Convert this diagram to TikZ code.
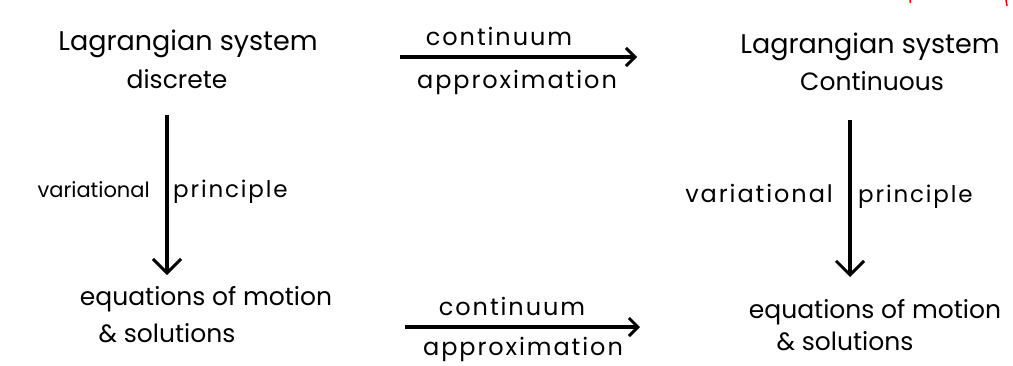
\documentclass[tikz,border=0pt]{standalone}
\usepackage{fontspec}
\setmainfont{Poppins}
\newfontfamily\wide[LetterSpace=8]{Poppins}
\usetikzlibrary{arrows.meta}

\begin{document}
\begin{tikzpicture}[x=1pt, y=-1pt,
    big/.style={anchor=base, inner sep=0pt, font=\fontsize{25}{30}\selectfont},
    title/.style={anchor=base, inner sep=0pt, font=\fontsize{27}{32}\selectfont},
    small/.style={inner sep=0pt, font=\fontsize{21}{25}\selectfont},
    arrlbl/.style={anchor=base, inner sep=0pt, font=\wide\fontsize{24}{28}\selectfont},
    harr/.style={line width=3.2pt, -{Straight Barb[length=9pt, width=18pt, line width=3pt]}},
    varr/.style={line width=3.2pt, -{Straight Barb[length=14pt, width=28pt, line width=3pt]}}]
    \useasboundingbox (0,0) rectangle (1013,365);

    % Discrete system (top left)
    \node[title] (lagd) at (188,50) {Lagrangian system};
    \node[big] (disc) at (177,88) {discrete};

    % Continuous system (top right)
    \node[title] (lagc) at (870,53) {Lagrangian system};
    \node[big] (cont) at (872,90) {Continuous};

    % Equations of motion (bottom row)
    \node[big] (eqd) at (206,305) {equations of motion};
    \node[big] (sold) at (167,342) {\& solutions};
    \node[big] (eqc) at (875,318) {equations of motion};
    \node[big] (solc) at (845,350) {\& solutions};

    % Continuum approximation, top and bottom
    \coordinate (ta) at (400,57);
    \coordinate (tb) at (637,57);
    \draw[harr] (ta) -- (tb);
    \node[arrlbl] (tcont) at (499,45) {continuum};
    \node[arrlbl] (tappr) at (517,88) {approximation};

    \coordinate (ba) at (405,327);
    \coordinate (bb) at (640,327);
    \draw[harr] (ba) -- (bb);
    \node[arrlbl] (bcont) at (512,315) {continuum};
    \node[arrlbl] (bappr) at (523,355) {approximation};

    % Variational principle, left and right
    \coordinate (la) at (167,115);
    \coordinate (lb) at (167,275);
    \draw[varr] (la) -- (lb);
    \node[small, anchor=base east] (lvar) at (150,197) {variational};
    \node[small, anchor=base west, font=\wide\fontsize{23}{27}\selectfont] (lpri) at (173,197) {principle};

    \coordinate (ra) at (850,120);
    \coordinate (rb) at (850,277);
    \draw[varr] (ra) -- (rb);
    \node[small, anchor=base east, font=\wide\fontsize{24}{28}\selectfont] (rvar) at (833,202) {variational};
    \node[small, anchor=base west, font=\wide\fontsize{23}{27}\selectfont] (rpri) at (858,202) {principle};

    % red marks cut at the top edge
    \draw[red, line width=1.5pt] (910,0) -- (910.5,3);
    \draw[red, line width=1.5pt] (1006,0) -- (1007,6);
\end{tikzpicture}
\end{document}
